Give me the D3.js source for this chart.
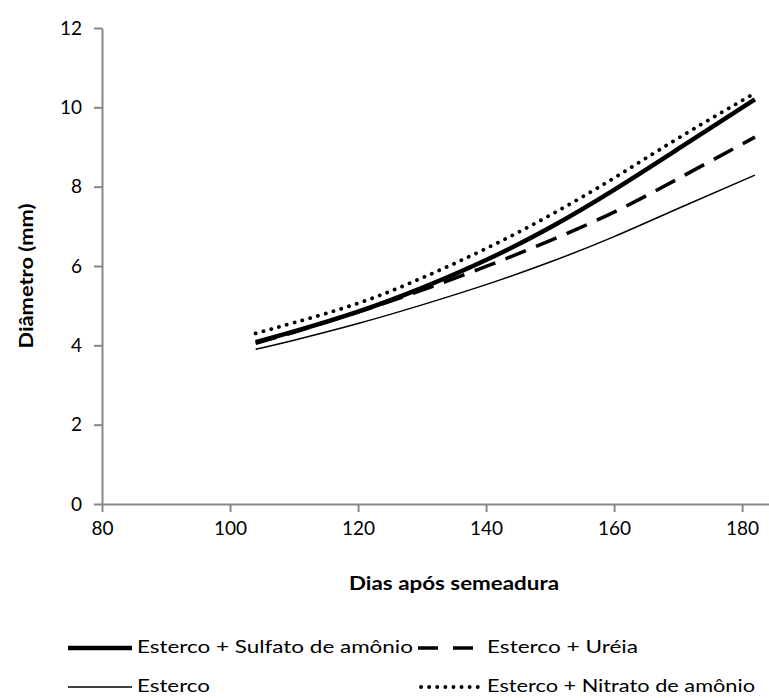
<!DOCTYPE html>
<html>
<head>
<meta charset="utf-8">
<script src="https://cdn.jsdelivr.net/npm/d3@7"></script>
<style>
  body { margin: 0; background: #fff; }
  text { font-family: Lato, "Open Sans", sans-serif; fill: #000; }
</style>
</head>
<body>
<div id="chart"></div>
<script>
'use strict';

// days after sowing
const dias = [104, 110, 120, 130, 140, 150, 160, 170, 182];

// diameter (mm) per treatment
const sulfato = [4.08, 4.35, 4.85, 5.45, 6.15, 6.97, 7.92, 8.95, 10.20];
const ureia   = [4.05, 4.33, 4.84, 5.39, 5.99, 6.64, 7.36, 8.20, 9.25];
const esterco = [3.90, 4.13, 4.55, 5.02, 5.53, 6.10, 6.74, 7.45, 8.29];
const nitrato = [4.30, 4.57, 5.06, 5.70, 6.44, 7.28, 8.22, 9.22, 10.36];

const xTicks = [80, 100, 120, 140, 160, 180];
const yTicks = [0, 2, 4, 6, 8, 10, 12];

const series = [
	{ name: 'Esterco + Sulfato de amônio', values: sulfato, width: 4.5, dash: null, cap: 'butt', len: 276 },
	{ name: 'Esterco + Uréia', values: ureia, width: 3.5, dash: '22,11', cap: 'butt', len: 151 },
	{ name: 'Esterco', values: esterco, width: 1.5, dash: null, cap: 'butt', len: 73 },
	{ name: 'Esterco + Nitrato de amônio', values: nitrato, width: 3.8, dash: '0.1,8', cap: 'round', len: 268 }
];

const width = 769, height = 698;
const axisColor = '#878787';

const svg = d3.select('#chart').append('svg')
	.attr('width', width)
	.attr('height', height);

const x = d3.scaleLinear().domain([80, 184.2]).range([102, 769]);
const y = d3.scaleLinear().domain([0, 12]).range([504, 28]);

// x axis
const gx = svg.append('g')
	.attr('transform', 'translate(0,' + y(0) + ')')
	.call(d3.axisBottom(x).tickValues(xTicks).tickSizeInner(8).tickSizeOuter(0).tickPadding(10));
gx.select('.domain').attr('stroke', axisColor).attr('stroke-width', 2);
gx.selectAll('.tick line').attr('stroke', axisColor).attr('stroke-width', 2);
gx.selectAll('.tick text')
	.style('font-size', '19px')
	.attr('fill', '#000');

// y axis
const gy = svg.append('g')
	.attr('transform', 'translate(' + x(80) + ',0)')
	.call(d3.axisLeft(y).tickValues(yTicks).tickSizeInner(8).tickSizeOuter(0).tickPadding(12));
gy.select('.domain').attr('stroke', axisColor).attr('stroke-width', 2);
gy.selectAll('.tick line').attr('stroke', axisColor).attr('stroke-width', 2);
gy.selectAll('.tick text')
	.style('font-size', '19px')
	.attr('fill', '#000');

// axis titles
svg.append('text')
	.attr('x', 349)
	.attr('y', 590)
	.attr('textLength', 210)
	.attr('lengthAdjust', 'spacingAndGlyphs')
	.style('font-size', '18px')
	.style('font-weight', 'bold')
	.text('Dias após semeadura');

svg.append('text')
	.attr('transform', 'translate(33,276) rotate(-90)')
	.attr('text-anchor', 'middle')
	.attr('textLength', 145)
	.attr('lengthAdjust', 'spacingAndGlyphs')
	.style('font-size', '18px')
	.style('font-weight', 'bold')
	.text('Diâmetro (mm)');

// curves
const line = d3.line()
	.curve(d3.curveNatural)
	.x((d, i) => x(dias[i]))
	.y(d => y(d));

series.forEach(s => {
	svg.append('path')
		.attr('d', line(s.values))
		.attr('fill', 'none')
		.attr('stroke', '#000')
		.attr('stroke-width', s.width)
		.attr('stroke-linecap', s.cap)
		.attr('stroke-dasharray', s.dash);
});

// legend (2 x 2)
const legPos = [
	{ lx: 68, ty: 647 },
	{ lx: 418, ty: 647 },
	{ lx: 68, ty: 686 },
	{ lx: 418, ty: 686 }
];

series.forEach((s, i) => {
	const p = legPos[i];
	const g = svg.append('g').attr('transform', 'translate(' + p.lx + ',' + p.ty + ')');
	g.append('line')
		.attr('x1', s.cap === 'round' ? 3 : 0)
		.attr('x2', 64)
		.attr('y1', 1)
		.attr('y2', 1)
		.attr('stroke', '#000')
		.attr('stroke-width', s.width)
		.attr('stroke-linecap', s.cap)
		.attr('stroke-dasharray', s.dash === null ? null : (s.cap === 'round' ? s.dash : '20,15'));
	g.append('text')
		.attr('x', 69)
		.attr('y', 0)
		.attr('dy', '0.35em')
		.attr('textLength', s.len)
		.attr('lengthAdjust', 'spacingAndGlyphs')
		.style('font-size', '18px')
		.text(s.name);
});
</script>
</body>
</html>
